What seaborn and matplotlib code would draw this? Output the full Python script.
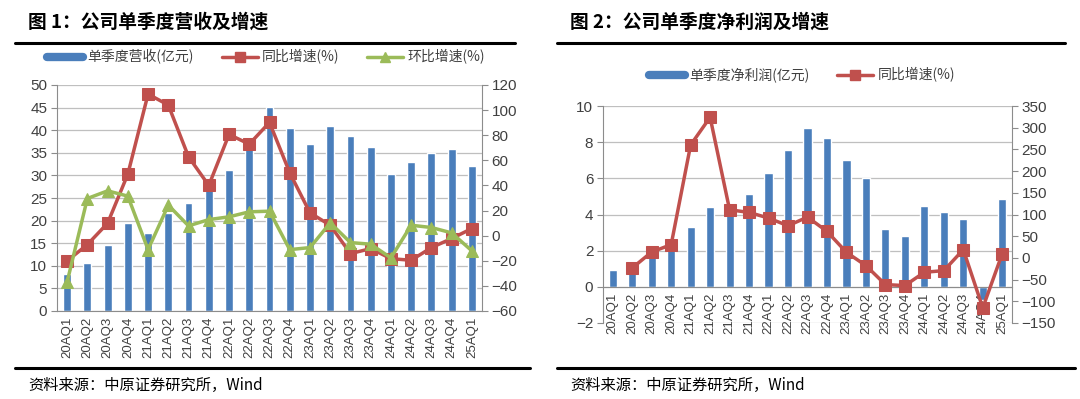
import numpy as np
import seaborn as sns
import matplotlib.pyplot as plt
from matplotlib.lines import Line2D

sns.set_style("white")
plt.rcParams['font.family'] = ['Liberation Sans', 'Noto Sans CJK SC']
plt.rcParams['axes.unicode_minus'] = True

# data
quarters = ['20AQ1', '20AQ2', '20AQ3', '20AQ4', '21AQ1', '21AQ2', '21AQ3', '21AQ4',
            '22AQ1', '22AQ2', '22AQ3', '22AQ4', '23AQ1', '23AQ2', '23AQ3', '23AQ4',
            '24AQ1', '24AQ2', '24AQ3', '24AQ4', '25AQ1']
revenue = [8.1, 10.6, 14.5, 19.4, 17.3, 21.7, 23.8, 26.8, 31.2, 36.3, 45.2,
           40.4, 36.9, 40.9, 38.8, 36.3, 30.3, 32.9, 34.9, 35.9, 32.1]
rev_yoy = [-20.1, -7.1, 9.9, 49, 112.8, 104, 62.8, 40, 80.6, 72.9, 90.2,
           50.1, 18.2, 8.3, -14.3, -10.3, -18.3, -19.6, -9.5, -2.3, 5.7]
rev_qoq = [-36.9, 29.6, 35.7, 31.5, -11.1, 24.3, 7.8, 12.8, 15, 19, 19.5,
           -11.1, -9.5, 10.2, -5.5, -6.8, -17.7, 8.3, 6.5, 2.2, -12.1]
profit = [0.92, 0.9, 1.7, 2.1, 3.31, 4.39, 4.08, 5.13, 6.32, 7.54, 8.77,
          8.25, 6.99, 6.01, 3.22, 2.79, 4.45, 4.14, 3.77, -0.75, 4.85]
profit_yoy = [np.nan, -23.2, 13.6, 30.5, 260.3, 324, 110.9, 104.8, 91.8, 74.1, 94.1,
              61.1, 12.8, -17.8, -61.5, -63.8, -33.1, -29.3, 19, -115.1, 9.8]

BLUE = '#4A7EBB'
RED = '#C0504D'
GREEN = '#9BBB59'
GRID = '#BFBFBF'
SPINE = '#8C8C8C'
TXT = '#404040'
CJK = ['Noto Sans CJK SC', 'DejaVu Sans']

W, H = 1080, 399
fig = plt.figure(figsize=(W / 100, H / 100), dpi=100)


def px_axes(x0, y0, x1, y1):
    return fig.add_axes([x0 / W, 1 - y1 / H, (x1 - x0) / W, (y1 - y0) / H])


def style_axes(ax, ax2, n):
    ax.set_axisbelow(True)
    ax.grid(axis='y', color=GRID, lw=0.9)
    ax.grid(axis='x', visible=False)
    ax2.grid(False)
    for a in (ax, ax2):
        for s in a.spines.values():
            s.set_visible(False)
    ax.spines['left'].set_visible(True)
    ax.spines['left'].set_color(SPINE)
    ax.spines['bottom'].set_visible(True)
    ax.spines['bottom'].set_color(SPINE)
    ax2.spines['right'].set_visible(True)
    ax2.spines['right'].set_color(SPINE)
    ax.set_xlim(-0.5, n - 0.5)
    ax.set_xticks(np.arange(n))
    ax.set_xticks(np.arange(n + 1) - 0.5, minor=True)
    ax.tick_params(axis='x', which='major', length=0, pad=4, labelsize=9.5,
                   labelrotation=90, labelcolor=TXT)
    ax.tick_params(axis='x', which='minor', length=4, color=SPINE, direction='out')
    ax.tick_params(axis='y', length=4, color=SPINE, direction='out', left=True,
                   labelsize=11, labelcolor=TXT, pad=3)
    ax2.tick_params(axis='y', length=4, color=SPINE, direction='out', right=True,
                    labelsize=11, labelcolor=TXT, pad=3)
    ax.set_xlabel('')
    ax.set_ylabel('')
    ax2.set_ylabel('')


n = len(quarters)
idx = np.arange(n)

# ---------- chart 1 ----------
ax = px_axes(57, 85, 482, 311)
sns.barplot(x=quarters, y=revenue, color=BLUE, saturation=1, width=0.39, ax=ax)
ax2 = ax.twinx()
sns.lineplot(x=idx, y=rev_yoy, color=RED, lw=2.5, marker='s', markersize=8,
             markeredgecolor=RED, ax=ax2)
sns.lineplot(x=idx, y=rev_qoq, color=GREEN, lw=2.5, marker='^', markersize=9,
             markeredgecolor=GREEN, ax=ax2)
ax.set_ylim(0, 50)
ax.set_yticks(np.arange(0, 51, 5))
ax2.set_ylim(-60, 120)
ax2.set_yticks(np.arange(-60, 121, 20))
style_axes(ax, ax2, n)

h1 = [Line2D([], [], color=BLUE, lw=6),
      Line2D([], [], color=RED, lw=2.5, marker='s', markersize=7),
      Line2D([], [], color=GREEN, lw=2.5, marker='^', markersize=7)]
fig.legend(h1, ['单季度营收(亿元)', '同比增速(%)', '环比增速(%)'],
           loc='center', bbox_to_anchor=(266 / W, 1 - 57 / H), ncol=3, frameon=False,
           prop={'family': CJK, 'size': 10}, handlelength=2.6, columnspacing=2.0,
           handletextpad=0.3, labelcolor=TXT)

# ---------- chart 2 ----------
bx = px_axes(603, 106, 1012, 323)
sns.barplot(x=quarters, y=profit, color=BLUE, saturation=1, width=0.42, ax=bx)
bx2 = bx.twinx()
sns.lineplot(x=idx, y=profit_yoy, color=RED, lw=2.5, marker='s', markersize=9,
             markeredgecolor=RED, ax=bx2)
bx.set_ylim(-2, 10)
bx.set_yticks(np.arange(-2, 11, 2))
bx2.set_ylim(-150, 350)
bx2.set_yticks(np.arange(-150, 351, 50))
style_axes(bx, bx2, n)
bx.spines['bottom'].set_position(('data', 0))

h2 = [Line2D([], [], color=BLUE, lw=6),
      Line2D([], [], color=RED, lw=2.5, marker='s', markersize=7)]
fig.legend(h2, ['单季度净利润(亿元)', '同比增速(%)'],
           loc='center', bbox_to_anchor=(802 / W, 1 - 75 / H), ncol=2, frameon=False,
           prop={'family': CJK, 'size': 10}, handlelength=2.6, columnspacing=2.0,
           handletextpad=0.3, labelcolor=TXT)

# ---------- titles, rules, footers ----------
for x0, x1, label in [(15, 515, '图 1：公司单季度营收及增速'),
                      (557, 1065, '图 2：公司单季度净利润及增速')]:
    fig.text((x0 + 13) / W, 1 - 22 / H, label, family=CJK, fontsize=13.5,
             fontweight='bold', va='center', ha='left', color='black')
    fig.add_artist(Line2D([x0 / W, x1 / W], [1 - 43 / H] * 2, color='black', lw=2.2))
for x0, x1 in [(15, 530), (557, 1075)]:
    fig.add_artist(Line2D([x0 / W, x1 / W], [1 - 368 / H] * 2, color='black', lw=2.2))
    fig.text((x0 + 13) / W, 1 - 385 / H, '资料来源：中原证券研究所，Wind', family=CJK,
             fontsize=11, va='center', ha='left', color='black')

fig.savefig('out.png', dpi=100)
